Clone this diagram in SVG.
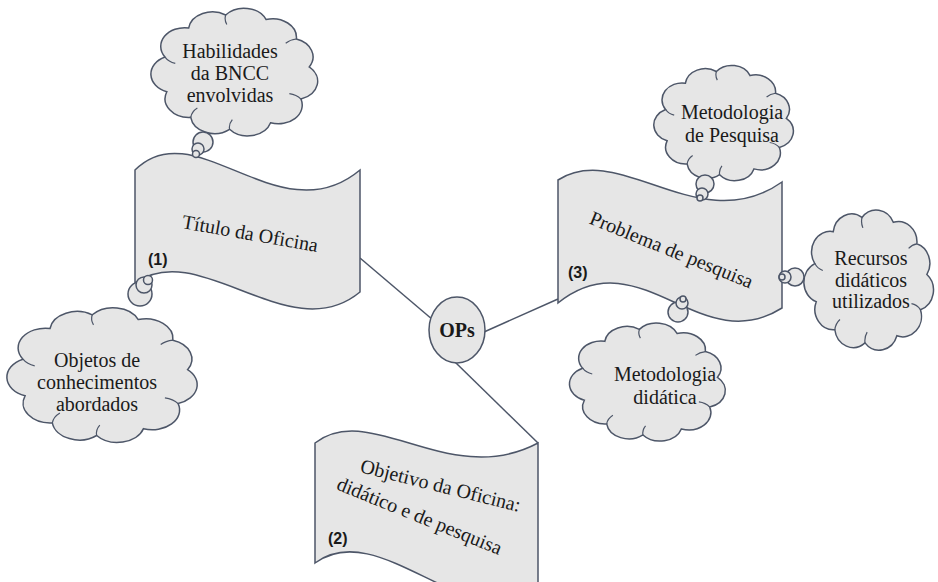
<svg xmlns="http://www.w3.org/2000/svg" xmlns:xlink="http://www.w3.org/1999/xlink" width="938" height="582" viewBox="0 0 938 582">
<style>
.shape{fill:#e6e6e6;stroke:#4d5668;stroke-width:1.5}
.cl{fill:#e6e6e6;stroke:#4d5668;stroke-width:1.5;vector-effect:non-scaling-stroke}
.curl{fill:none;stroke:#4d5668;stroke-width:1.2;vector-effect:non-scaling-stroke}
.conn{stroke:#4d5668;stroke-width:1.5;fill:none}
.t{font-family:"Liberation Serif","Times New Roman",serif;font-size:20px;fill:#1a1a1a;text-anchor:middle}
.num{font-family:"Liberation Sans",Arial,sans-serif;font-size:16px;font-weight:bold;fill:#1a1a1a}
</style>
<defs>
<g id="cloud">
<path class="cl" d="M-38.6,-10.4 A13,13 0 0 1 -25.7,-30.6 A13,13 0 0 1 -5.6,-39.6 A13,13 0 0 1 16.3,-36.5 A13,13 0 0 1 32.8,-22.9 A13,13 0 0 1 39.8,-3.5 A13,13 0 0 1 35.3,18.8 A13,13 0 0 1 18.8,35.3 A13,13 0 0 1 -3.5,39.8 A13,13 0 0 1 -24.6,31.5 A13,13 0 0 1 -37.6,13.7 A13,13 0 0 1 -38.6,-10.4 Z"/>
<path class="curl" d="M-38.6,-10.4 A10,10 0 0 0 -33,-6 M-5.6,-39.6 A10,10 0 0 0 -5,-33 M32.8,-22.9 A10,10 0 0 0 27,-20 M35.3,18.8 A10,10 0 0 0 29,15 M-3.5,39.8 A10,10 0 0 1 -2,33 M-24.6,31.5 A10,10 0 0 1 -21,25"/>
</g>
</defs>

<g id="connectors">
<line class="conn" x1="360" y1="258" x2="433" y2="320"/>
<line class="conn" x1="484" y1="332" x2="558" y2="299"/>
<line class="conn" x1="455" y1="362" x2="538" y2="443"/>
</g>

<g id="flag-titulo">
<path class="shape" d="M135,170 C195,110 280,237 360,170 L360,292 C290,350 200,237 135,283 Z"/>
<text class="t" transform="translate(249,240) rotate(10)">Título da Oficina</text>
<text class="num" x="148" y="265">(1)</text>
</g>

<g id="flag-objetivo">
<path class="shape" d="M315,443 C370,400 450,490 538,443 L538,590 C470,640 380,515 315,563 Z"/>
<text class="t" transform="translate(439,492) rotate(14)">Objetivo da Oficina:</text>
<text class="t" transform="translate(417,522) rotate(22)">didático e de pesquisa</text>
<text class="num" x="328" y="544">(2)</text>
</g>

<g id="flag-problema">
<path class="shape" d="M558,180 C620,140 700,240 782,182 L782,308 C700,360 640,237 558,303 Z"/>
<text class="t" transform="translate(669,256) rotate(22)">Problema de pesquisa</text>
<text class="num" x="568" y="278">(3)</text>
</g>

<g id="ops">
<ellipse class="shape" cx="457" cy="330" rx="28" ry="33"/>
<text class="t" x="457" y="337" font-weight="bold">OPs</text>
</g>

<g id="cloud-habilidades">
<use xlink:href="#cloud" transform="translate(236,72) scale(1.84,1.44)"/>
<circle class="shape" cx="203" cy="142" r="10"/>
<circle class="shape" cx="198" cy="149" r="6"/>
<circle class="shape" cx="196" cy="154" r="3.5"/>
<text class="t" x="230" y="58">Habilidades</text>
<text class="t" x="230" y="80">da BNCC</text>
<text class="t" x="230" y="102">envolvidas</text>
</g>

<g id="cloud-objetos">
<use xlink:href="#cloud" transform="translate(104,375) scale(2.1,1.52)"/>
<circle class="shape" cx="140" cy="294" r="12"/>
<circle class="shape" cx="144" cy="285" r="8"/>
<circle class="shape" cx="148" cy="280" r="4.5"/>
<text class="t" x="97" y="367">Objetos de</text>
<text class="t" x="97" y="389">conhecimentos</text>
<text class="t" x="97" y="411">abordados</text>
</g>

<g id="cloud-met-pesquisa">
<use xlink:href="#cloud" transform="translate(725,123) scale(1.54,1.3)"/>
<circle class="shape" cx="705" cy="184" r="9"/>
<circle class="shape" cx="702" cy="194" r="6"/>
<circle class="shape" cx="700" cy="198" r="3"/>
<text class="t" x="732" y="119">Metodologia</text>
<text class="t" x="732" y="142">de Pesquisa</text>
</g>

<g id="cloud-recursos">
<use xlink:href="#cloud" transform="translate(870,280) scale(1.43,1.58)"/>
<circle class="shape" cx="795" cy="277" r="9"/>
<circle class="shape" cx="785" cy="277" r="6"/>
<circle class="shape" cx="782" cy="277" r="3"/>
<text class="t" x="871" y="265">Recursos</text>
<text class="t" x="871" y="287">didáticos</text>
<text class="t" x="871" y="308">utilizados</text>
</g>

<g id="cloud-met-didatica">
<use xlink:href="#cloud" transform="translate(649,382) scale(1.72,1.33)"/>
<circle class="shape" cx="678" cy="312" r="10"/>
<circle class="shape" cx="682" cy="303" r="6"/>
<circle class="shape" cx="683" cy="299" r="3"/>
<text class="t" x="665" y="381">Metodologia</text>
<text class="t" x="665" y="404">didática</text>
</g>
</svg>
